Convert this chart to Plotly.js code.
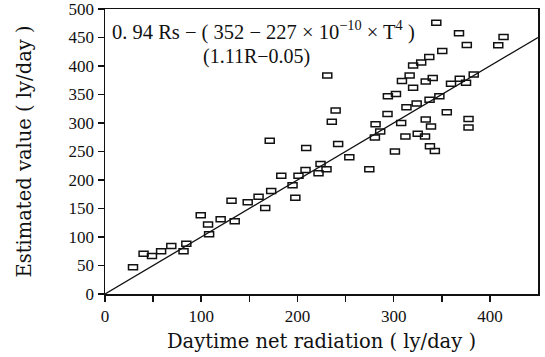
<!DOCTYPE html>
<html>
<head>
<meta charset="utf-8">
<script src="https://cdn.plot.ly/plotly-3.0.1.min.js"></script>
<style>html,body{margin:0;padding:0;background:#fff;}#chart{width:545px;height:357px;}</style>
</head>
<body>
<div id="chart"></div>
<script>
// Daytime net radiation (ly/day)
var netRadiation = [29.1, 40.1, 48.8, 58.3, 68.9, 81.6, 84.5, 99.5, 107.1, 108.2,
  120.2, 131.5, 134.8, 148.3, 159.6, 166.5, 172.7, 171.2, 183.2, 194.9,
  197.8, 201.1, 208.4, 209.1, 221.9, 224.0, 230.2, 231.0, 235.7, 239.7,
  242.3, 253.9, 274.7, 281.2, 280.5, 286.0, 294.0, 293.6, 302.4, 301.3,
  307.8, 308.6, 312.2, 313.3, 316.6, 320.2, 320.2, 323.9, 325.0, 328.6,
  333.3, 333.3, 337.0, 332.6, 337.3, 338.8, 340.6, 337.7, 342.8, 344.3,
  347.5, 350.5, 355.2, 359.6, 367.9, 368.7, 375.2, 376.0, 377.8, 377.8,
  383.2, 408.7, 414.2];
// Estimated value (ly/day)
var estimated = [47, 70.6, 66.5, 75, 84, 75, 88, 138, 122, 105,
  131, 163.5, 127.6, 161, 170.6, 151, 180.6, 269, 207.6, 191,
  169, 207.6, 217.6, 256, 212, 228, 219, 383.5, 302, 322,
  263, 240, 219, 298, 274.7, 285, 347, 316, 351, 250,
  300, 373.5, 276.5, 327.6, 383.5, 362, 401, 334, 281, 406,
  306, 373, 416, 276.5, 341, 294, 379, 259, 251, 476,
  347, 426.5, 319, 369, 457.6, 377.6, 370.6, 437, 307, 292,
  385, 436.5, 451];
// 1:1 reference line
var lineX = [0, 450];
var lineY = [0, 450];

var xTickVals = [0, 100, 200, 300, 400];
var xMinorVals = [50, 150, 250, 350];
var yTickVals = [0, 50, 100, 150, 200, 250, 300, 350, 400, 450, 500];

var shapes = netRadiation.map(function (xv, i) {
  return {
    type: 'rect', xref: 'x', yref: 'y',
    xsizemode: 'pixel', ysizemode: 'pixel',
    xanchor: xv, yanchor: estimated[i],
    x0: -4.5, x1: 4.5, y0: -2.5, y1: 2.5,
    line: {color: '#111', width: 1.5},
    fillcolor: 'rgba(0,0,0,0)'
  };
});

var traces = [
  {x: lineX, y: lineY, mode: 'lines', line: {color: '#111', width: 1.3}, hoverinfo: 'skip'},
  {x: netRadiation, y: estimated, mode: 'markers',
   marker: {symbol: 'square-open', size: 9, color: 'rgba(0,0,0,0)'}}
];

var tickFont = {family: '"Liberation Serif", "DejaVu Serif", serif', size: 17, color: '#111'};
var titleFont = {family: '"DejaVu Serif", serif', size: 19.5, color: '#111'};

var layout = {
  width: 545, height: 357,
  margin: {l: 105, r: 7, t: 9, b: 63},
  paper_bgcolor: '#fff', plot_bgcolor: '#fff',
  showlegend: false,
  shapes: shapes,
  xaxis: {
    range: [0, 450], tickvals: xTickVals, ticktext: xTickVals.map(String),
    ticks: 'outside', ticklen: 6, tickwidth: 1.5, tickcolor: '#111',
    minor: {tickvals: xMinorVals, ticks: 'outside', ticklen: 6, tickwidth: 1.5, tickcolor: '#111', showgrid: false},
    showline: true, mirror: true, linecolor: '#111', linewidth: 1.5,
    showgrid: false, zeroline: false, tickfont: tickFont, ticklabeloverflow: 'allow',
    title: {text: 'Daytime net radiation ( ly/day )', font: titleFont, standoff: 9}
  },
  yaxis: {
    range: [0, 500], tickvals: yTickVals, ticktext: yTickVals.map(String),
    ticks: 'outside', ticklen: 6, tickwidth: 1.5, tickcolor: '#111',
    showline: true, mirror: true, linecolor: '#111', linewidth: 1.5,
    showgrid: false, zeroline: false, tickfont: tickFont, ticklabeloverflow: 'allow',
    title: {text: 'Estimated value ( ly/day )', font: titleFont, standoff: 32}
  },
  annotations: [
    {xref: 'paper', yref: 'paper', x: 0.012, y: 0.925, xanchor: 'left', yanchor: 'middle',
     showarrow: false, text: '0. 94 Rs − ( 352 − 227 × 10<sup>−10</sup> × T<sup>4</sup> )',
     font: {family: '"Liberation Serif", serif', size: 20.5, color: '#111'}},
    {xref: 'paper', yref: 'paper', x: 0.349, y: 0.835, xanchor: 'center', yanchor: 'middle',
     showarrow: false, text: '(1.11R−0.05)',
     font: {family: '"Liberation Serif", serif', size: 20, color: '#111'}}
  ]
};

Plotly.newPlot('chart', traces, layout, {staticPlot: true, displayModeBar: false});
</script>
</body>
</html>
